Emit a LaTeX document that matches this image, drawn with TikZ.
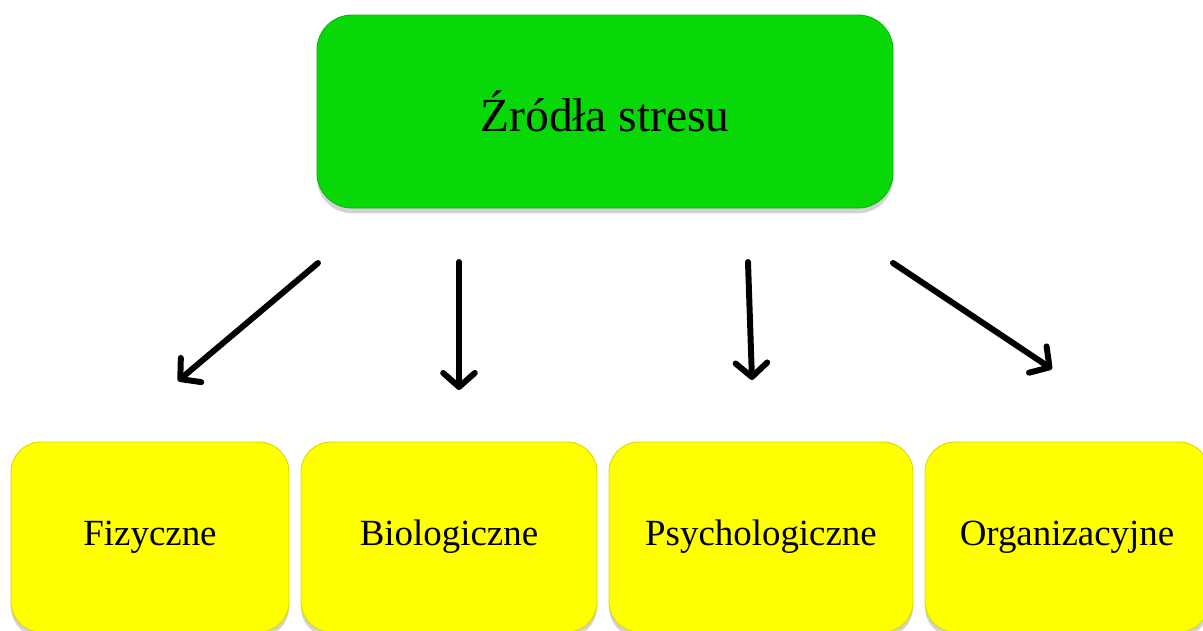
\documentclass[tikz,border=0pt]{standalone}
\usepackage{fontspec}
\setmainfont{Liberation Serif}
\usepackage{xcolor}
\usetikzlibrary{positioning}
\usetikzlibrary{shapes, arrows.meta, shadows}
\definecolor{boxgreen}{RGB}{8,216,8}
\definecolor{boxyellow}{RGB}{255,255,0}
\tikzstyle{topbox} = [rectangle, rounded corners=0.7cm, minimum width=11.52cm, minimum height=3.86cm, text centered, fill=boxgreen, draw=boxgreen!85!black, line width=0.5pt, drop shadow={shadow xshift=0pt, shadow yshift=-3pt, opacity=0.35}, font=\fontsize{27}{32}\selectfont]
\tikzstyle{srcbox} = [rectangle, rounded corners=0.6cm, minimum height=3.8cm, text centered, fill=boxyellow, draw=boxyellow!85!black, line width=0.5pt, drop shadow={shadow xshift=0pt, shadow yshift=-3pt, opacity=0.35}, font=\fontsize{21}{25}\selectfont]
\tikzstyle{arrow} = [line width=3.4pt, line cap=round, -{Straight Barb[length=8pt,width=18pt,round]}]

\begin{document}
\begin{tikzpicture}
\useasboundingbox (0,0) rectangle (24.06,-12.6);
\clip (0,0) rectangle (24.06,-12.6);
\node[topbox] (zrodla) at (12.1,-2.23) {Źródła stresu};
\node[srcbox, minimum width=5.56cm] (fiz) at (3.0,-10.74) {Fizyczne};
\node[srcbox, minimum width=5.92cm] (bio) at (8.98,-10.74) {Biologiczne};
\node[srcbox, minimum width=6.08cm] (psy) at (15.22,-10.74) {Psychologiczne};
\node[srcbox, minimum width=5.68cm] (org) at (21.34,-10.74) {Organizacyjne};
% arrows float between the boxes
\coordinate (s1) at (6.36,-5.26);
\coordinate (e1) at (3.56,-7.62);
\coordinate (s2) at (9.18,-5.24);
\coordinate (e2) at (9.18,-7.80);
\coordinate (s3) at (14.96,-5.24);
\coordinate (e3) at (15.04,-7.60);
\coordinate (s4) at (17.86,-5.26);
\coordinate (e4) at (21.04,-7.38);
\draw[arrow] (s1)--(e1);
\draw[arrow] (s2)--(e2);
\draw[arrow] (s3)--(e3);
\draw[arrow] (s4)--(e4);
\end{tikzpicture}
\end{document}
